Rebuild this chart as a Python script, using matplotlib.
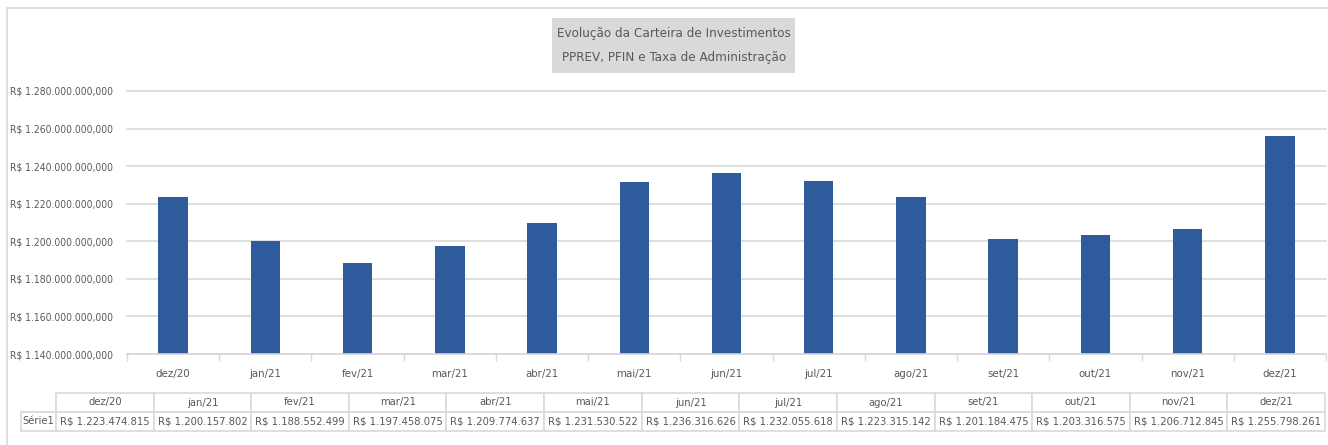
import numpy as np
import matplotlib
matplotlib.use('Agg')
import matplotlib.pyplot as plt
from matplotlib.ticker import FuncFormatter, FixedLocator
from matplotlib.patches import Rectangle

plt.rcParams['font.family'] = ['Liberation Sans Narrow', 'DejaVu Sans']
plt.rcParams['font.stretch'] = 'condensed'

meses = ['dez/20', 'jan/21', 'fev/21', 'mar/21', 'abr/21', 'mai/21', 'jun/21',
         'jul/21', 'ago/21', 'set/21', 'out/21', 'nov/21', 'dez/21']
valores = [1223474815, 1200157802, 1188552499, 1197458075, 1209774637, 1231530522,
           1236316626, 1232055618, 1223315142, 1201184475, 1203316575, 1206712845,
           1255798261]
serie = 'Série1'
titulo = 'Evolução da Carteira de Investimentos\nPPREV, PFIN e Taxa de Administração'

W, H = 1328, 445
azul = '#2F5A9B'
cinza_txt = '#595959'
cinza_lin = '#D9D9D9'


def brl(v, casas=0):
    s = '{:,.{}f}'.format(v, casas)
    s = s.replace(',', '#').replace('.', ',').replace('#', '.')
    return 'R$ ' + s


fig = plt.figure(figsize=(W / 100, H / 100), dpi=100)

# moldura do grafico (borda clara)
fig.patches.append(Rectangle((7 / W, -0.1), 1.2, 1 - 8 / H + 0.1, transform=fig.transFigure,
                             fill=False, edgecolor=cinza_lin, linewidth=1.2))
# caixa cinza do titulo
fig.patches.append(Rectangle((552 / W, 1 - 73 / H), (795 - 552) / W, (73 - 18) / H,
                             transform=fig.transFigure, facecolor=cinza_lin, edgecolor='none'))

ax = fig.add_axes([127 / W, 1 - 354 / H, (1326 - 127) / W, (354 - 91) / H])
x = np.arange(len(meses))
ax.bar(x, valores, width=0.32, color=azul, zorder=3)
ax.set_xlim(-0.5, len(meses) - 0.5)
ax.set_ylim(1.14e9, 1.28e9)
ax.set_yticks(np.arange(1.14e9, 1.28e9 + 1, 2e7))
ax.yaxis.set_major_formatter(FuncFormatter(lambda v, p: brl(v, 3)))
ax.set_xticks(x)
ax.set_xticklabels(meses)
ax.xaxis.set_minor_locator(FixedLocator(np.arange(-0.5, len(meses), 1.0)))
ax.tick_params(axis='x', which='major', length=0, pad=11, labelsize=8.2, labelcolor=cinza_txt)
ax.tick_params(axis='x', which='minor', length=5, color=cinza_lin, width=1)
ax.tick_params(axis='y', length=0, pad=10, labelsize=7.4, labelcolor=cinza_txt)
ax.grid(axis='y', color=cinza_lin, linewidth=1.2, zorder=0)
for gl in ax.get_ygridlines():
    gl.set_clip_on(False)
for s in ['top', 'right', 'left']:
    ax.spines[s].set_visible(False)
ax.spines['bottom'].set_color(cinza_lin)
ax.spines['bottom'].set_linewidth(1.2)
ax.spines['bottom'].set_zorder(4)

fig.text(674 / W, 1 - 45.5 / H, titulo, ha='center', va='center', fontsize=9.6,
         color=cinza_txt, linespacing=2.15)

# tabela de dados
tax = fig.add_axes([0, 0, 1, 1])
tax.axis('off')
cel = [[serie] + [brl(v) for v in valores]]
larg = [35] + [97.5] * len(meses)
tab = tax.table(cellText=cel, colLabels=[''] + meses, colWidths=larg,
                cellLoc='center',
                bbox=[21 / W, 1 - 431 / H, (1325 - 21) / W, (431 - 393) / H])
tab.auto_set_font_size(False)
tab.set_fontsize(8)
for (r, c), cell in tab.get_celld().items():
    cell.set_edgecolor(cinza_lin)
    cell.set_linewidth(1.2)
    cell.get_text().set_color(cinza_txt)
    cell.PAD = 0.02
tab[0, 0].visible_edges = 'BR'

fig.savefig('out.png', dpi=100, facecolor='white')
